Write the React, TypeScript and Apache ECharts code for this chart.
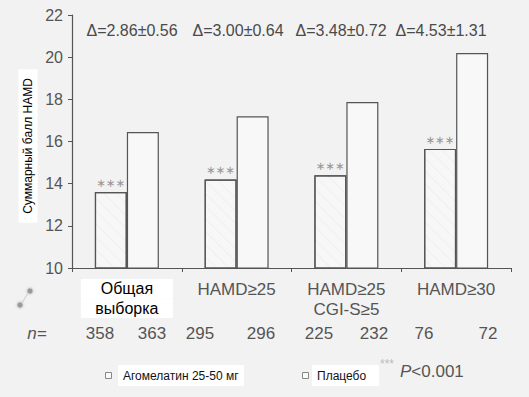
import React, { useEffect, useRef } from "react";
import * as echarts from "echarts";

const categories = ["Общая\nвыборка", "HAMD≥25", "HAMD≥25\nCGI-S≥5", "HAMD≥30"];
const agomelatine = [13.6, 14.2, 14.4, 15.65];
const placebo = [16.45, 17.2, 17.87, 20.2];
const deltaLabels = ["Δ=2.86±0.56", "Δ=3.00±0.64", "Δ=3.48±0.72", "Δ=4.53±1.31"];
const nLabels = ["358", "363", "295", "296", "225", "232", "76", "72"];
const seriesNames = ["Агомелатин 25-50 мг", "Плацебо"];
const yAxisTitle = "Суммарный балл HAMD";
const significance = "***";
const pValueText = "<0.001";

const FONT = "'Liberation Sans', Arial, sans-serif";
const deltaX = [132, 238, 341, 441];
const nX = [100, 152, 200, 261, 319, 374, 424, 488];

export default function App() {
  const ref = useRef<HTMLDivElement>(null);
  useEffect(() => {
    if (!ref.current) return;
    const chart = echarts.init(ref.current, null, { renderer: "svg" });
    const graphic: any[] = [];
    deltaLabels.forEach((t, i) => {
      graphic.push({
        type: "text", x: deltaX[i], y: 30,
        style: { text: t, fontSize: 16, fontFamily: FONT, fill: "#4a4a4a", align: "center", verticalAlign: "middle" },
      });
    });
    graphic.push({
      type: "text", x: 37, y: 333,
      style: { text: "n=", fontSize: 17, fontStyle: "italic", fontFamily: FONT, fill: "#555", align: "center", verticalAlign: "middle" },
    });
    nLabels.forEach((t, i) => {
      graphic.push({
        type: "text", x: nX[i], y: 333,
        style: { text: t, fontSize: 17, fontFamily: FONT, fill: "#555", align: "center", verticalAlign: "middle" },
      });
    });
    // y axis title
    graphic.push({
      type: "text", x: 28, y: 146, rotation: Math.PI / 2,
      style: {
        text: yAxisTitle, fontSize: 12, fontFamily: FONT, fill: "#000", align: "center", verticalAlign: "middle",
        backgroundColor: "#fff", padding: [4, 9, 3, 9],
      },
    });
    // legend
    graphic.push({ type: "rect", shape: { x: 118, y: 365, width: 126, height: 21 }, style: { fill: "#fff" } });
    graphic.push({ type: "rect", shape: { x: 105.5, y: 372.5, width: 6, height: 6 }, style: { fill: "#fafafa", stroke: "#888", lineWidth: 1 } });
    graphic.push({
      type: "text", x: 123, y: 376,
      style: { text: seriesNames[0], fontSize: 12, fontFamily: FONT, fill: "#111", verticalAlign: "middle" },
    });
    graphic.push({ type: "rect", shape: { x: 312, y: 365, width: 67, height: 21 }, style: { fill: "#fff" } });
    graphic.push({ type: "rect", shape: { x: 302.5, y: 372.5, width: 6, height: 6 }, style: { fill: "#fafafa", stroke: "#888", lineWidth: 1 } });
    graphic.push({
      type: "text", x: 317, y: 376,
      style: { text: seriesNames[1], fontSize: 12, fontFamily: FONT, fill: "#111", verticalAlign: "middle" },
    });
    graphic.push({
      type: "text", x: 380, y: 364,
      style: { text: significance, fontSize: 12, fontFamily: FONT, fill: "#bbb", verticalAlign: "middle" },
    });
    graphic.push({
      type: "text", x: 400, y: 371,
      style: {
        text: "{i|P}{n|" + pValueText + "}", fontFamily: FONT, verticalAlign: "middle",
        rich: {
          i: { fontSize: 17, fontStyle: "italic", fill: "#555", fontFamily: FONT },
          n: { fontSize: 17, fill: "#555", fontFamily: FONT },
        },
      },
    });
    // smudge
    graphic.push({ type: "circle", shape: { cx: 30, cy: 291, r: 2.5 }, style: { fill: "#999", shadowBlur: 3, shadowColor: "#999" } });
    graphic.push({ type: "circle", shape: { cx: 20, cy: 305, r: 2.5 }, style: { fill: "#999", shadowBlur: 3, shadowColor: "#999" } });
    graphic.push({ type: "line", shape: { x1: 28, y1: 293, x2: 22, y2: 303 }, style: { stroke: "#ccc", lineWidth: 1 } });

    chart.setOption({
      animation: false,
      backgroundColor: "#f2f2f2",
      grid: { left: 72, top: 15, right: 18, bottom: 129, containLabel: false },
      xAxis: {
        type: "category",
        data: categories,
        axisLine: { lineStyle: { color: "#555", width: 1.2 } },
        axisTick: { show: true, length: 4, lineStyle: { color: "#555" } },
        axisLabel: {
          interval: 0,
          margin: 11,
          formatter: (v: string, idx: number) => {
            const lines = v.split("\n");
            if (idx === 0) return lines.map((l) => "{w|" + l + "}").join("\n");
            return lines.map((l) => "{g|" + l + "}").join("\n");
          },
          rich: {
            w: { backgroundColor: "#fff", width: 92, height: 19.5, lineHeight: 19.5, align: "center", fontSize: 16, color: "#000", fontFamily: FONT },
            g: { fontSize: 17, lineHeight: 20, color: "#555", fontFamily: FONT },
          },
        },
      },
      yAxis: {
        type: "value",
        min: 10,
        max: 22,
        interval: 2,
        splitLine: { show: false },
        axisLine: { show: true, lineStyle: { color: "#555", width: 1.2 } },
        axisTick: { show: true, length: 4, lineStyle: { color: "#555" } },
        axisLabel: { fontSize: 16, color: "#555", margin: 9, fontFamily: FONT },
      },
      series: [
        {
          name: seriesNames[0],
          type: "bar",
          data: agomelatine,
          barWidth: 32,
          barGap: "0%",
          itemStyle: {
            color: "#f7f7f7",
            borderColor: "#555",
            borderWidth: 1.2,
            decal: {
              symbol: "rect",
              symbolSize: 1,
              dashArrayX: [1, 0],
              dashArrayY: [1, 8],
              rotation: Math.PI / 4,
              color: "rgba(0,0,0,0.03)",
            },
          },
          label: {
            show: true, position: "top", distance: 3, formatter: "∗∗∗",
            color: "#999", fontSize: 11.5, fontFamily: "'DejaVu Sans', sans-serif",
          },
        },
        {
          name: seriesNames[1],
          type: "bar",
          data: placebo,
          barWidth: 32,
          itemStyle: { color: "#f8f8f8", borderColor: "#555", borderWidth: 1.2 },
        },
      ],
      graphic,
    });
    return () => chart.dispose();
  }, []);
  return <div ref={ref} style={{ position: "fixed", left: 0, top: 0, width: 529, height: 397 }} />;
}
